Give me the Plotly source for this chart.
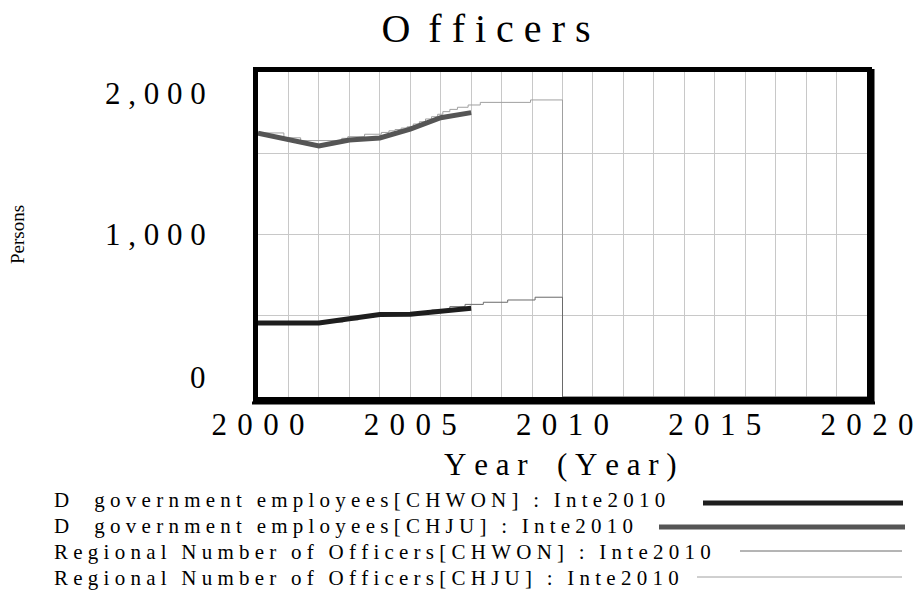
import plotly.graph_objects as go

# ---------------- data ----------------
years = [2000, 2001, 2002, 2003, 2004, 2005, 2006, 2007]
d_gov_chwon = [455, 455, 455, 482, 508, 510, 530, 546]
d_gov_chju = [1623, 1582, 1545, 1582, 1594, 1648, 1719, 1750]

reg_chwon_t = [2000.0, 2002.3, 2002.8, 2003.3, 2003.8, 2004.3, 2005.2, 2005.7,
               2006.3, 2006.8, 2007.4, 2008.2, 2009.1, 2010.0, 2020.0]
reg_chwon_v = [455, 462, 475, 490, 502, 510, 518, 535,
               556, 570, 583, 597, 614, 0, 0]

reg_chju_t = [2000.0, 2000.85, 2001.4, 2002.75, 2002.95, 2003.5, 2004.05, 2004.3,
              2004.5, 2004.7, 2004.9, 2005.1, 2005.3, 2005.5, 2005.7, 2005.9,
              2006.07, 2006.3, 2006.55, 2006.9, 2007.3, 2008.95, 2010.0, 2020.0]
reg_chju_v = [1625, 1595, 1578, 1592, 1602, 1617, 1628, 1638,
              1646, 1655, 1663, 1680, 1694, 1711, 1725, 1740,
              1756, 1770, 1783, 1797, 1813, 1828, 0, 0]

x_tick_vals = [2000, 2005, 2010, 2015, 2020]
x_tick_labels = ["2000", "2005", "2010", "2015", "2020"]
y_tick_vals = [0, 1000, 2000]
y_tick_labels = ["0", "1,000", "2,000"]

series_names = [
    "D government employees[CHWON] : Inte2010",
    "D government employees[CHJU] : Inte2010",
    "Regional Number of Officers[CHWON] : Inte2010",
    "Regional Number of Officers[CHJU] : Inte2010",
]
colors = ["#1e1e1e", "#555555", "#6a6a6a", "#a0a0a0"]
widths = [5, 5, 1, 1]

# ---------------- layout helpers ----------------
W, H = 916, 593
L, T = 258, 72
PW, PH = 609, 325
R, B = W - L - PW, H - T - PH
SERIF = "Liberation Serif, Times New Roman, serif"


def px_x(px):
    """window pixel -> paper x"""
    return (px - L) / PW


def px_y(py):
    """window pixel -> paper y"""
    return (T + PH - py) / PH


def spaced(s, gap="\u00a0", word="\u00a0\u2009"):
    return gap.join(word if c == " " else c for c in s)


fig = go.Figure()

fig.add_trace(go.Scatter(x=reg_chju_t, y=reg_chju_v, mode="lines", line_shape="hv",
                         line=dict(color=colors[3], width=widths[3]), name=series_names[3]))
fig.add_trace(go.Scatter(x=reg_chwon_t, y=reg_chwon_v, mode="lines", line_shape="hv",
                         line=dict(color=colors[2], width=widths[2]), name=series_names[2]))
fig.add_trace(go.Scatter(x=years, y=d_gov_chju, mode="lines",
                         line=dict(color=colors[1], width=widths[1]), name=series_names[1]))
fig.add_trace(go.Scatter(x=years, y=d_gov_chwon, mode="lines",
                         line=dict(color=colors[0], width=widths[0]), name=series_names[0]))

annotations = []
# y tick labels (placed inside like the original)
y_shifts = [20, 0, -21]
for v, t, s in zip(y_tick_vals, y_tick_labels, y_shifts):
    annotations.append(dict(xref="paper", yref="y", x=0, y=v, xanchor="right", yanchor="middle",
                            xshift=-50, yshift=s, showarrow=False,
                            text=spaced(t), font=dict(family=SERIF, size=31, color="black")))

# axis titles
annotations.append(dict(xref="paper", yref="paper", x=px_x(560), y=px_y(465),
                        xanchor="center", yanchor="middle", showarrow=False,
                        text=spaced("Year (Year)"), font=dict(family=SERIF, size=31, color="black")))
annotations.append(dict(xref="paper", yref="paper", x=px_x(18), y=px_y(235),
                        xanchor="center", yanchor="middle", showarrow=False, textangle=-90,
                        text="Persons", font=dict(family=SERIF, size=19, color="black")))

# legend
leg_y = [500, 526, 552, 578]
leg_line = [(703, 903), (659, 905), (740, 902), (697, 902)]
leg_line_y = [503, 527, 551, 577]
shapes = []
for i, name in enumerate(series_names):
    txt = spaced(name, word="\u2009").replace("D\u00a0\u2009", "D\u00a0\u00a0\u00a0\u2009", 1)
    annotations.append(dict(xref="paper", yref="paper", x=px_x(52), y=px_y(leg_y[i]),
                            xanchor="left", yanchor="middle", showarrow=False,
                            text=txt, font=dict(family=SERIF, size=21, color="black")))
    shapes.append(dict(type="line", xref="paper", yref="paper",
                       x0=px_x(leg_line[i][0]), x1=px_x(leg_line[i][1]),
                       y0=px_y(leg_line_y[i]), y1=px_y(leg_line_y[i]),
                       line=dict(color=colors[i], width=widths[i])))

# heavier right / bottom frame edges (drop-shadow look of the original)
shapes.append(dict(type="line", xref="paper", yref="paper",
                   x0=px_x(873), x1=px_x(873), y0=px_y(404), y1=px_y(69),
                   line=dict(color="black", width=3)))
shapes.append(dict(type="line", xref="paper", yref="paper",
                   x0=px_x(252), x1=px_x(875), y0=px_y(403), y1=px_y(403),
                   line=dict(color="black", width=3)))

fig.update_layout(
    width=W, height=H,
    margin=dict(l=L, r=R, t=T, b=B, autoexpand=False),
    paper_bgcolor="white", plot_bgcolor="white",
    showlegend=False,
    title=dict(text=spaced("Officers").replace("O\u00a0", "O\u00a0\u2009", 1),
               xref="container", yref="container",
               x=486 / W, y=1 - 28 / H, xanchor="center", yanchor="middle",
               font=dict(family=SERIF, size=40, color="black")),
    annotations=annotations,
    shapes=shapes,
    xaxis=dict(range=[2000, 2020], tickvals=x_tick_vals, automargin=False,
               ticktext=[spaced(t, "\u2004") for t in x_tick_labels],
               tickfont=dict(family=SERIF, size=31, color="black"),
               ticklabelstandoff=-4,
               showgrid=True, gridcolor="#c8c8c8", gridwidth=1,
               minor=dict(dtick=1, showgrid=True, gridcolor="#c8c8c8", gridwidth=1),
               zeroline=False, showline=True, mirror=True, linewidth=5, linecolor="black",
               ticks=""),
    yaxis=dict(range=[0, 2000], dtick=500, showticklabels=False, automargin=False,
               showgrid=True, gridcolor="#c8c8c8", gridwidth=1,
               zeroline=False, showline=True, mirror=True, linewidth=5, linecolor="black",
               ticks=""),
)

fig.write_html(
    "out.html",
    config={"displayModeBar": False},
    post_script="document.body.style.margin='0';"
                "document.documentElement.style.overflow='hidden';",
)
